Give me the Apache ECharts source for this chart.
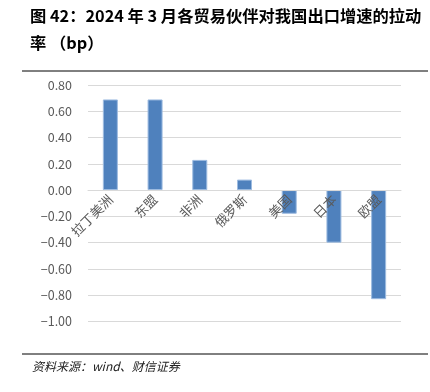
<!DOCTYPE html>
<html>
<head>
<meta charset="utf-8">
<script src="https://cdn.jsdelivr.net/npm/echarts@6/dist/echarts.min.js"></script>
<style>
  html, body { margin: 0; padding: 0; background: #fff; }
  #chart { width: 430px; height: 392px; }
</style>
</head>
<body>
<div id="chart"></div>
<script>
// partners and their pull on export growth (bp)
const partners = ['拉丁美洲', '东盟', '非洲', '俄罗斯', '美国', '日本', '欧盟'];
const pullValues = [0.69, 0.69, 0.23, 0.08, -0.18, -0.40, -0.83];
const yTicks = [-1.0, -0.8, -0.6, -0.4, -0.2, 0, 0.2, 0.4, 0.6, 0.8];

const titleText = '图 42：2024 年 3 月各贸易伙伴对我国出口增速的拉动\n率 （bp）';
const sourceText = '资料来源：wind、财信证券';

const gridTop = 85, gridBottom = 70.5, chartH = 392;
const yMin = yTicks[0], yMax = yTicks[yTicks.length - 1];

const myChart = echarts.init(document.getElementById('chart'), null, { renderer: 'canvas' });

const fmt = (v) => {
    const s = Math.abs(v).toFixed(2);
    return v < -1e-9 ? '−' + s : s;
};

// move the category axis up to the zero line
const plotH = chartH - gridTop - gridBottom;
const zeroShift = plotH * (0 - yMin) / (yMax - yMin);

const option = {
    backgroundColor: '#fff',
    animation: false,
    title: {
        text: titleText,
        left: 30,
        top: 2,
        padding: 0,
        textStyle: {
            fontFamily: '"Noto Sans CJK SC", serif',
            fontWeight: 'bold',
            fontSize: 16.3,
            lineHeight: 27,
            color: '#000'
        }
    },
    graphic: [
        // rule under the title
        { type: 'line', shape: { x1: 22, y1: 71, x2: 428, y2: 71 }, style: { stroke: '#000', lineWidth: 1 } },
        // rule above the source
        { type: 'line', shape: { x1: 22, y1: 354, x2: 428, y2: 354 }, style: { stroke: '#000', lineWidth: 1 } },
        {
            type: 'text', left: 32, top: 360,
            style: {
                text: sourceText,
                font: 'italic 12px "Noto Sans CJK SC", serif',
                fill: '#222'
            }
        }
    ],
    grid: { left: 88, right: 29, top: gridTop, bottom: gridBottom, containLabel: false },
    xAxis: {
        type: 'category',
        data: partners,
        offset: -zeroShift,
        z: 5,
        axisLine: { onZero: false, lineStyle: { color: '#d9d9d9', width: 1 } },
        axisTick: { show: false },
        axisLabel: {
            rotate: 45,
            margin: 7,
            fontSize: 13,
            color: '#595959',
            fontFamily: '"Noto Sans CJK SC", sans-serif'
        }
    },
    yAxis: {
        type: 'value',
        min: yMin,
        max: yMax,
        interval: 0.2,
        axisLine: { show: false },
        axisTick: { show: false },
        splitLine: { lineStyle: { color: '#d9d9d9', width: 1 } },
        axisLabel: {
            margin: 16,
            fontSize: 12.5,
            color: '#595959',
            fontFamily: '"Noto Sans CJK SC", sans-serif',
            formatter: (v) => fmt(v)
        }
    },
    series: [
        {
            type: 'bar',
            data: pullValues,
            barWidth: 15,
            itemStyle: {
                color: '#4f81bd',
                borderColor: '#9dbbe0',
                borderWidth: 1
            }
        }
    ]
};

myChart.setOption(option);
</script>
</body>
</html>
